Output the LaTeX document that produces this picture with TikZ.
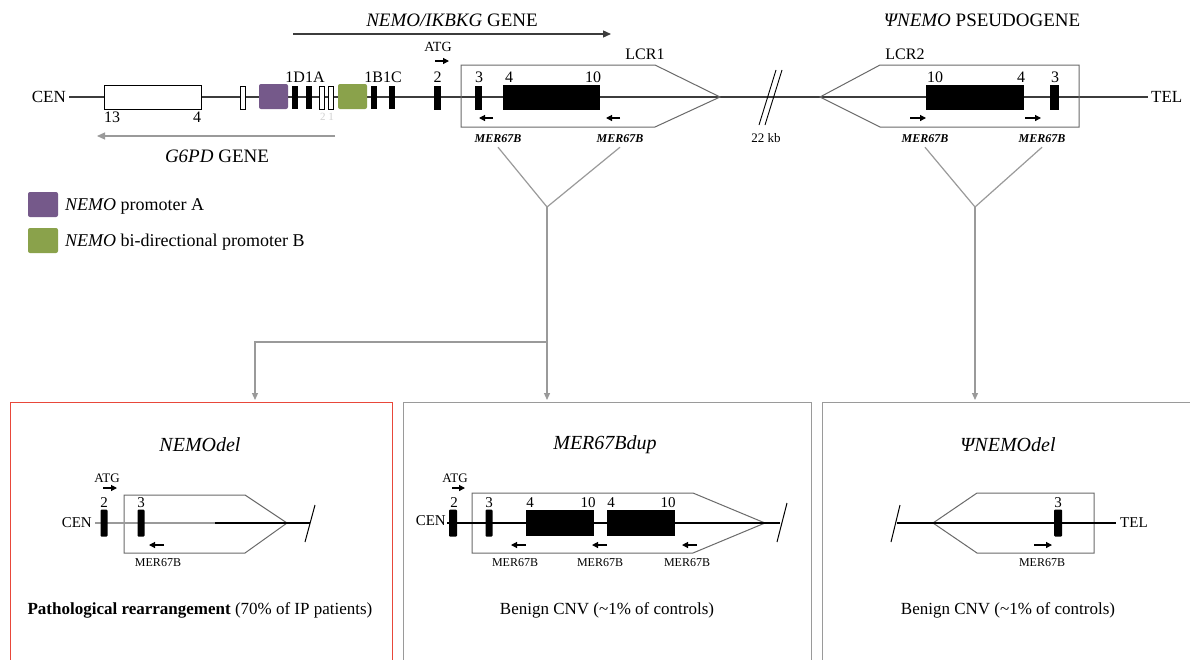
\documentclass[tikz,border=0pt]{standalone}
\usepackage{fontspec}
\setmainfont{Liberation Serif}
\usetikzlibrary{arrows.meta}
\definecolor{purp}{HTML}{75598A}
\definecolor{grn}{HTML}{8AA24B}
\definecolor{redb}{HTML}{E8473A}
\definecolor{gline}{HTML}{9A9A9A}
\definecolor{dline}{HTML}{3C3C3C}
\definecolor{pline}{HTML}{6A6A6A}
\tikzset{
  fsz/.style={font=\fontsize{#1}{#1}\selectfont},
  txt/.style={inner sep=0pt, fsz=#1},
  exon/.style={fill=black, draw=none, inner sep=0pt, minimum width=#1, minimum height=24pt},
  wexon/.style={fill=white, draw=black, line width=1pt, inner sep=0pt, minimum width=#1, minimum height=23pt},
  prom/.style={draw=none, inner sep=0pt, rounded corners=2pt, minimum width=29pt, minimum height=25pt},
  bexon/.style={fill=black, draw=none, inner sep=0pt, rounded corners=1pt, minimum width=#1, minimum height=27pt},
  chrom/.style={dline, line width=1.1pt},
  lcr/.style={pline, line width=1pt},
  sarrow/.style={line width=1.2pt, -{Triangle[length=6pt,width=6pt]}},
  conn/.style={gline, line width=1.2pt},
  connarrow/.style={conn, -{Triangle[length=7pt,width=6pt]}, shorten >=2pt},
  panel/.style={draw=#1, line width=1.2pt, inner sep=0pt, minimum height=320pt, anchor=north west},
  slash/.style={black, line width=1pt},
}
\begin{document}
\begin{tikzpicture}[x=1pt,y=-1pt]
\useasboundingbox (0,0) rectangle (1190,659);
\fill[white] (0,0) rectangle (1190,659);

% ---------------- top chromosome ----------------
\node[txt=17, anchor=east] (cen) at (66,97) {CEN};
\node[txt=17, anchor=west] (tel) at (1151,97) {TEL};
\draw[chrom] ([xshift=3pt]cen.east) -- ([xshift=-3pt]tel.west);

% G6PD exons
\node[wexon=97pt, minimum height=24pt] (g13) at (152.5,97) {};
\node[wexon=5pt] (gsm) at (242.5,97.5) {};
\node[prom, fill=purp] (pA) at (273.5,96.5) {};
\node[exon=6pt, minimum height=23pt] (e1Da) at (295,97.5) {};
\node[exon=6pt, minimum height=23pt] (e1Db) at (309,97.5) {};
\node[wexon=5pt] (w2) at (321.5,97.5) {};
\node[wexon=5pt] (w1) at (330.5,97.5) {};
\node[prom, fill=grn] (pB) at (352.5,96.5) {};
\node[exon=6pt, minimum height=23pt] (e1B) at (374,97.5) {};
\node[exon=6pt, minimum height=23pt] (e1C) at (392,97.5) {};
\node[exon=7pt] (e2) at (437.5,97.5) {};

\node[txt=16] (l1D1A) at (305,77) {1D1A};
\node[txt=16] (l1B1C) at (383,77) {1B1C};
\node[txt=16] (l2) at (437.5,77) {2};
\node[txt=16] (l13) at (112,117) {13};
\node[txt=16] (l4g) at (197,117) {4};
\node[txt=11, text=black!18] (l21) at (327,117) {2 1};

% G6PD gene arrow
\coordinate (g6s) at (335,136);
\coordinate (g6e) at (97,136);
\draw[gline, line width=1.2pt, -{Triangle[length=8pt,width=7pt]}] (g6s) -- (g6e);
\node[txt=19] (g6lab) at (217,156) {\textit{G6PD} GENE};

% NEMO gene arrow
\coordinate (nms) at (293,34);
\coordinate (nme) at (611,34);
\draw[dline, line width=1.3pt, -{Triangle[length=8pt,width=7pt]}] (nms) -- (nme);
\node[txt=19] (nmlab) at (452,20) {\textit{NEMO/IKBKG} GENE};

% ATG
\node[txt=14] (atg) at (438,47) {ATG};
\coordinate (atgs) at (435,61);
\coordinate (atge) at (449,61);
\draw[sarrow] (atgs) -- (atge);

% LCR1
\draw[lcr] (461,65) -- (655,65) -- (720,97) -- (655,127) -- (461,127) -- cycle;
\node[txt=16] (lcr1) at (645,54) {LCR1};
\node[exon=7pt] (e3) at (478.5,97.5) {};
\node[exon=97pt, minimum height=25pt] (e410) at (551.5,97.5) {};
\node[txt=16] (l3) at (479,77) {3};
\node[txt=16] (l4) at (509,77) {4};
\node[txt=16] (l10) at (593,77) {10};
\coordinate (a1s) at (493,118); \coordinate (a1e) at (479,118);
\coordinate (a2s) at (620,118); \coordinate (a2e) at (606,118);
\draw[sarrow] (a1s) -- (a1e);
\draw[sarrow] (a2s) -- (a2e);
\node[txt=12] (mer1) at (498,139) {\textit{\textbf{MER67B}}};
\node[txt=12] (mer2) at (620,139) {\textit{\textbf{MER67B}}};

% break
\draw[slash, line width=0.9pt] (759,125) -- (776,70);
\draw[slash, line width=0.9pt] (765,125) -- (782,70);
\node[txt=13] (kb) at (766,138) {22 kb};

% LCR2
\node[txt=19] (psilab) at (982,20) {\textit{ΨNEMO} PSEUDOGENE};
\draw[lcr] (820,97) -- (880,65) -- (1079,65) -- (1079,127) -- (880,127) -- cycle;
\node[txt=16] (lcr2) at (905,54) {LCR2};
\node[exon=98pt, minimum height=25pt] (p104) at (975,97.5) {};
\node[exon=9pt, minimum height=25pt] (p3) at (1054.5,97.5) {};
\node[txt=16] (lp10) at (935,77) {10};
\node[txt=16] (lp4) at (1021,77) {4};
\node[txt=16] (lp3) at (1055,77) {3};
\coordinate (b1s) at (910,118); \coordinate (b1e) at (926,118);
\coordinate (b2s) at (1025,118); \coordinate (b2e) at (1041,118);
\draw[sarrow] (b1s) -- (b1e);
\draw[sarrow] (b2s) -- (b2e);
\node[txt=12] (mer3) at (925,139) {\textit{\textbf{MER67B}}};
\node[txt=12] (mer4) at (1042,139) {\textit{\textbf{MER67B}}};

% legend
\node[prom, fill=purp, minimum width=30pt, minimum height=25pt] (legA) at (43,204.5) {};
\node[prom, fill=grn, minimum width=30pt, minimum height=25pt] (legB) at (43,240.5) {};
\node[txt=18, anchor=west] (legAt) at (65,206) {\textit{NEMO} promoter A};
\node[txt=18, anchor=west] (legBt) at (65,242) {\textit{NEMO} bi-directional promoter B};

% ---------------- panels ----------------
\node[panel=redb, minimum width=382pt] (p1) at (10,402) {};
\node[panel=gline, minimum width=408pt] (p2) at (403,402) {};
\node[panel=gline, minimum width=420pt] (p3) at (822,402) {};

% connectors
\coordinate (v1) at (547,207);
\coordinate (h1) at (547,342);
\coordinate (c1) at (255,342);
\coordinate (v2) at (975,207);
\draw[conn] ([yshift=-4pt]mer1.south) -- (v1) -- ([yshift=-4pt]mer2.south);
\draw[conn] ([yshift=-4pt]mer3.south) -- (v2) -- ([yshift=-4pt]mer4.south);
\draw[connarrow] (v1) -- (v1 |- p2.north);
\draw[connarrow] (h1) -- (c1) -- (c1 |- p1.north);
\draw[connarrow] (v2) -- (v2 |- p3.north);

% ---- panel 1: NEMOdel ----
\node[txt=20] (t1) at (200,445) {\textit{NEMOdel}};
\node[txt=13] (atg1) at (107,478) {ATG};
\coordinate (q1s) at (103,488); \coordinate (q1e) at (117,488);
\draw[sarrow] (q1s) -- (q1e);
\node[txt=15, anchor=east] (cen1) at (92,523) {CEN};
\draw[lcr] (124,495) -- (245,495) -- (287,523) -- (245,553) -- (124,553) -- cycle;
\coordinate (k1a) at (95,523); \coordinate (k1b) at (215,523); \coordinate (k1c) at (310,523);
\draw[gline, line width=1.1pt] (k1a) -- (k1b);
\draw[chrom, black] (k1b) -- (k1c);
\draw[slash] (305,542) -- (315,505);
\node[bexon=7pt] (n2) at (104,523) {};
\node[bexon=7pt] (n3) at (141,523) {};
\node[txt=15] (n2l) at (104,503) {2};
\node[txt=15] (n3l) at (141,503) {3};
\coordinate (r1s) at (164,545); \coordinate (r1e) at (149,545);
\draw[sarrow] (r1s) -- (r1e);
\node[txt=12] (m1) at (158,563) {MER67B};
\node[txt=17] (d1) at (200,610) {\textbf{Pathological rearrangement} (70\% of IP patients)};

% ---- panel 2: MER67Bdup ----
\node[txt=20] (t2) at (605,445) {\textit{MER67Bdup}};
\node[txt=13] (atg2) at (455,478) {ATG};
\coordinate (q2s) at (452,488); \coordinate (q2e) at (465,488);
\draw[sarrow] (q2s) -- (q2e);
\node[txt=15, anchor=east] (cen2) at (446,521) {CEN};
\draw[lcr] (472,493) -- (693,493) -- (765,523) -- (693,553) -- (472,553) -- cycle;
\coordinate (k2a) at (447,523); \coordinate (k2b) at (780,523);
\draw[chrom, black] (k2a) -- (k2b);
\draw[slash] (777,542) -- (787,503);
\node[bexon=8pt] (d2e2) at (453,523) {};
\node[bexon=7pt] (d2e3) at (489,523) {};
\node[bexon=68pt, minimum height=26pt, rounded corners=0pt] (d2b1) at (560,523) {};
\node[bexon=68pt, minimum height=26pt, rounded corners=0pt] (d2b2) at (641,523) {};
\node[txt=15] (d2l2) at (454,503) {2};
\node[txt=15] (d2l3) at (489,503) {3};
\node[txt=15] (d2l4a) at (530,503) {4};
\node[txt=15] (d2l10a) at (588,503) {10};
\node[txt=15] (d2l4b) at (611,503) {4};
\node[txt=15] (d2l10b) at (668,503) {10};
\coordinate (r2s) at (526,545); \coordinate (r2e) at (511,545);
\coordinate (r3s) at (607,545); \coordinate (r3e) at (592,545);
\coordinate (r4s) at (697,545); \coordinate (r4e) at (682,545);
\draw[sarrow] (r2s) -- (r2e);
\draw[sarrow] (r3s) -- (r3e);
\draw[sarrow] (r4s) -- (r4e);
\node[txt=12] (m2a) at (515,563) {MER67B};
\node[txt=12] (m2b) at (600,563) {MER67B};
\node[txt=12] (m2c) at (687,563) {MER67B};
\node[txt=17] (d2) at (607,610) {Benign CNV (\textasciitilde1\% of controls)};

% ---- panel 3: PsiNEMOdel ----
\node[txt=20] (t3) at (1008,445) {\textit{ΨNEMOdel}};
\draw[lcr] (933,523) -- (977,493) -- (1094,493) -- (1094,553) -- (977,553) -- cycle;
\coordinate (k3a) at (897,523); \coordinate (k3b) at (1116,523);
\draw[chrom, black] (k3a) -- (k3b);
\draw[slash] (891,542) -- (900,505);
\node[txt=15, anchor=west] (tel3) at (1120,523) {TEL};
\node[bexon=8pt] (e3p) at (1058,523) {};
\node[txt=15] (e3pl) at (1058,503) {3};
\coordinate (r5s) at (1034,545); \coordinate (r5e) at (1052,545);
\draw[sarrow] (r5s) -- (r5e);
\node[txt=12] (m3) at (1042,563) {MER67B};
\node[txt=17] (d3) at (1008,610) {Benign CNV (\textasciitilde1\% of controls)};
\end{tikzpicture}
\end{document}
